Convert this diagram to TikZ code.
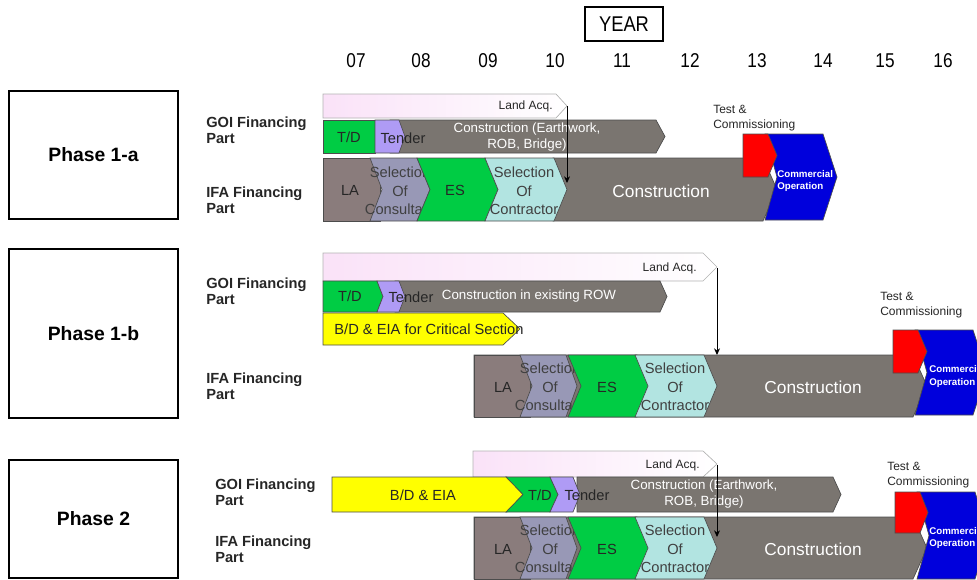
\documentclass[tikz,border=0pt]{standalone}
\usepackage{fontspec}
\setmainfont{Liberation Sans}
\newfontfamily\yearfont[FakeStretch=0.86]{Liberation Sans}
\usetikzlibrary{arrows.meta, positioning}
\definecolor{tdgreen}{RGB}{0,204,68}
\definecolor{cons}{RGB}{122,117,112}
\definecolor{tender}{RGB}{175,155,245}
\definecolor{lagray}{RGB}{138,124,124}
\definecolor{consult}{RGB}{152,152,182}
\definecolor{contract}{RGB}{178,228,225}
\definecolor{bdyellow}{RGB}{255,255,0}
\definecolor{opblue}{RGB}{0,0,220}
\definecolor{lapink}{RGB}{250,226,248}

% chevron: style, x left, x right, top, bottom, notch depth, tip depth
\newcommand{\chev}[7]{%
  \pgfmathsetmacro{\chevmid}{(#4+#5)/2}%
  \path[#1] (#2,#4) -- (#3,#4) -- ({#3+#7},\chevmid) -- (#3,#5) -- (#2,#5) -- ({#2+#6},\chevmid) -- cycle;}

\tikzset{
  bar/.style={draw=black!70, line width=0.5pt},
  landacq/.style={draw=black!30, line width=0.5pt, left color=lapink, right color=white},
  phase/.style={draw, line width=0.9pt, minimum width=126.75pt, font=\fontsize{14.5}{17}\selectfont\bfseries},
  part/.style={anchor=west, align=left, inner sep=0pt, text=black!85, font=\fontsize{11}{12}\selectfont\bfseries},
  lbl/.style={align=center, inner sep=0pt, text=black!85, font=\fontsize{11}{13.8}\selectfont},
  small/.style={inner sep=0pt, text=black!85, font=\fontsize{9}{11.25}\selectfont},
  big/.style={inner sep=0pt, text=white, font=\fontsize{13}{15}\selectfont},
  opn/.style={anchor=west, align=left, inner sep=0pt, text=white, font=\fontsize{7.3}{9.2}\selectfont\bfseries},
  yearbox/.style={draw, line width=0.8pt, minimum width=58.5pt, minimum height=25.5pt, font=\yearfont\fontsize{16}{18}\selectfont},
  yearlbl/.style={inner sep=0pt, font=\yearfont\fontsize{15}{17}\selectfont},
  link/.style={-{Stealth[length=5pt,width=4.5pt]}, line width=0.7pt}
}

\begin{document}
\begin{tikzpicture}[x=0.75pt, y=-0.75pt]
\clip (0,0) rectangle (977,579);

% Years
\node[yearbox] (year) at (624,24) {YEAR};
\foreach \yr/\xx in {07/356, 08/421, 09/488, 10/555, 11/622, 12/690, 13/757, 14/823, 15/885, 16/943}
  \node[yearlbl] (y\yr) at (\xx,61) {\yr};

% Phase 1-a
\node[phase, minimum height=96pt] (p1a) at (93.5,155) {Phase 1-a};
\node[part] (a-goi) at (206,130) {GOI Financing\\Part};
\node[part] (a-ifa) at (206,200) {IFA Financing\\Part};

\chev{landacq}{323}{556}{94}{118}{0}{11}
\node[small, anchor=east] (a-land) at (553,106) {Land Acq.};
\chev{bar, fill=cons}{390}{656}{120}{153}{0}{9}
\path[bar, fill=tdgreen] (323,120) rectangle (375,153);
\chev{bar, fill=tender}{375}{399}{120}{153}{0}{6}
\node[lbl] (a-td) at (349,137) {T/D};
\node[lbl] (a-tender) at (403,138) {Tender};
\node[lbl, text=white, font=\fontsize{10}{12}\selectfont] (a-cons) at (527,137) {Construction (Earthwork,\\ROB, Bridge)};

\chev{bar, fill=cons}{553}{763}{158}{221}{0}{14}
\path[bar, fill=lagray] (323,158) rectangle (380,221);
\node[lbl] (a-la) at (350,190) {LA};
\chev{bar, fill=consult}{370}{417}{158}{221}{12}{13}
\node[lbl, text=black!75] (a-sc) at (400,191) {Selection\\Of\\Consultant};
\chev{bar, fill=tdgreen}{417}{485}{158}{221}{13}{13}
\node[lbl] (a-es) at (455,190) {ES};
\chev{bar, fill=contract}{485}{554}{158}{221}{13}{13}
\node[lbl, text=black!75] (a-sk) at (524,191) {Selection\\Of\\Contractor};
\node[big] (a-build) at (661,191) {Construction};
\chev{bar, fill=opblue}{765}{823}{134}{220}{12}{14}
\chev{bar, fill=red}{743}{768}{134}{177}{0}{9}
\node[small, align=left, anchor=west] (a-test) at (713,118) {Test \&\\Commissioning};
\node[opn] (a-op) at (777,181) {Commercial\\Operation};

\coordinate (a-tip) at (567,106);
\coordinate (a-end) at (567,183);
\draw[link] (a-tip) -- (a-end);

% Phase 1-b
\node[phase, minimum height=126.75pt] (p1b) at (93.5,333.5) {Phase 1-b};
\node[part] (b-goi) at (206,291) {GOI Financing\\Part};
\node[part] (b-ifa) at (206,386) {IFA Financing\\Part};

\chev{landacq}{323}{703}{253}{281}{0}{14}
\node[small, anchor=east] (b-land) at (697,268) {Land Acq.};
\chev{bar, fill=cons}{395}{660}{281}{312}{0}{7}
\chev{bar, fill=tdgreen}{323}{377}{281}{312}{0}{6}
\chev{bar, fill=tender}{377}{399}{281}{312}{6}{6}
\node[lbl] (b-td) at (350,296) {T/D};
\node[lbl] (b-tender) at (411,297) {Tender};
\node[lbl, text=white, font=\fontsize{10}{12}\selectfont] (b-cons) at (529,296) {Construction in existing ROW};
\chev{bar, fill=bdyellow}{323}{503}{313}{345}{0}{17}
\node[lbl] (b-bd) at (429,329) {B/D \& EIA for Critical Section};

\chev{bar, fill=cons}{474}{913}{355}{417}{0}{14}
\path[bar, fill=lagray] (474,355) rectangle (530,417);
\node[lbl] (b-la) at (503,387) {LA};
\chev{bar, fill=consult}{520}{566}{355}{417}{12}{11}
\node[lbl, text=black!75] (b-sc) at (550,387) {Selection\\Of\\Consultant};
\chev{bar, fill=tdgreen}{568}{637}{355}{417}{13}{13}
\node[lbl] (b-es) at (607,387) {ES};
\chev{bar, fill=contract}{635}{704}{355}{417}{13}{13}
\node[lbl, text=black!75] (b-sk) at (675,387) {Selection\\Of\\Contractor};
\node[big] (b-build) at (813,387) {Construction};
\chev{bar, fill=opblue}{915}{973}{330}{415}{12}{14}
\chev{bar, fill=red}{893}{918}{330}{373}{0}{9}
\node[small, align=left, anchor=west] (b-test) at (880,305.5) {Test \&\\Commissioning};
\node[opn] (b-op) at (929,376.5) {Commercial\\Operation};

\coordinate (b-tip) at (717,268);
\coordinate (b-end) at (717,355);
\draw[link] (b-tip) -- (b-end);

% Phase 2
\node[phase, minimum height=88.5pt] (p2) at (93.5,519) {Phase 2};
\node[part] (c-goi) at (215,492) {GOI Financing\\Part};
\node[part] (c-ifa) at (215,549) {IFA Financing\\Part};

\chev{landacq}{473}{703}{451}{477}{0}{14}
\node[small, anchor=east] (c-land) at (700,465) {Land Acq.};
\chev{bar, fill=cons}{577}{833}{477}{512}{0}{8}
\chev{bar, fill=bdyellow}{332}{507}{477}{512}{0}{16}
\chev{bar, fill=tdgreen}{506}{550}{477}{512}{17}{8}
\chev{bar, fill=tender}{550}{573}{477}{512}{8}{7}
\node[lbl] (c-bd) at (423,495) {B/D \& EIA};
\node[lbl] (c-td) at (540,495) {T/D};
\node[lbl] (c-tender) at (587,495) {Tender};
\node[lbl, text=white, font=\fontsize{10}{12}\selectfont] (c-cons) at (704,494) {Construction (Earthwork,\\ROB, Bridge)};

\chev{bar, fill=cons}{474}{913}{517}{579}{0}{14}
\path[bar, fill=lagray] (474,517) rectangle (530,579);
\node[lbl] (c-la) at (503,549) {LA};
\chev{bar, fill=consult}{520}{566}{517}{579}{12}{11}
\node[lbl, text=black!75] (c-sc) at (550,549) {Selection\\Of\\Consultant};
\chev{bar, fill=tdgreen}{568}{637}{517}{579}{13}{13}
\node[lbl] (c-es) at (607,549) {ES};
\chev{bar, fill=contract}{635}{704}{517}{579}{13}{13}
\node[lbl, text=black!75] (c-sk) at (675,549) {Selection\\Of\\Contractor};
\node[big] (c-build) at (813,549) {Construction};
\chev{bar, fill=opblue}{917}{975}{492}{579}{12}{14}
\chev{bar, fill=red}{895}{920}{492}{533}{0}{8}
\node[small, align=left, anchor=west] (c-test) at (887,475.5) {Test \&\\Commissioning};
\node[opn] (c-op) at (929,538) {Commercial\\Operation};

\coordinate (c-tip) at (717,465);
\coordinate (c-end) at (717,537);
\draw[link] (c-tip) -- (c-end);
\end{tikzpicture}
\end{document}
